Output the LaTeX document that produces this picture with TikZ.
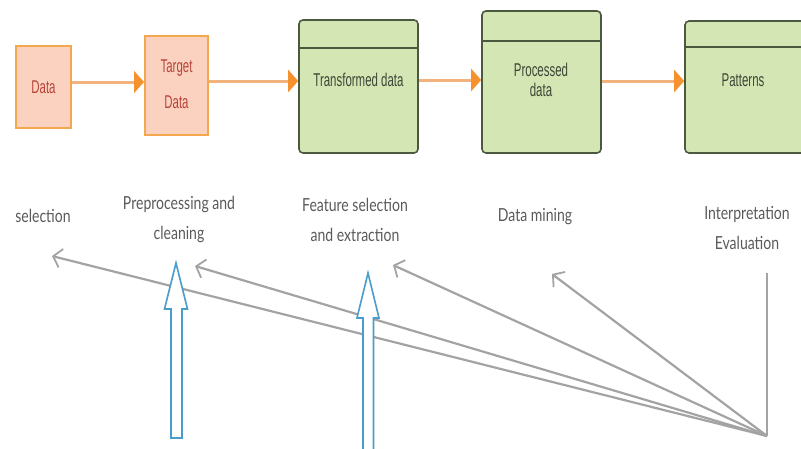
\documentclass[tikz,border=0pt]{standalone}
\usepackage{fontspec}
\setmainfont{Lato}
\newfontfamily\stepfont[FakeStretch=0.78]{Lato}
\newfontfamily\boxfont[FakeStretch=0.62]{Liberation Sans}
\usetikzlibrary{arrows.meta,calc}

\definecolor{pinkfill}{HTML}{FBD2BF}
\definecolor{pinkedge}{HTML}{F3A84E}
\definecolor{pinktext}{HTML}{B8443A}
\definecolor{greenfill}{HTML}{D5E6B5}
\definecolor{greenedge}{HTML}{4B5940}
\definecolor{greentext}{HTML}{3E4636}
\definecolor{flowline}{HTML}{F1B27C}
\definecolor{flowhead}{HTML}{F5922E}
\definecolor{backline}{HTML}{A3A3A3}
\definecolor{labeltext}{HTML}{5A5A5A}
\definecolor{hollowblue}{HTML}{4A9CCB}

\tikzset{
  x=1pt, y=-1pt,
  rawbox/.style={draw=pinkedge, fill=pinkfill, line width=2pt,
    text=pinktext, font=\boxfont\fontsize{18.5}{36}\selectfont,
    align=center, inner sep=0pt},
  stagebox/.style={draw=greenedge, fill=greenfill, line width=1.6pt,
    rounded corners=4pt, inner sep=0pt},
  stagetext/.style={text=greentext, font=\boxfont\fontsize{18.5}{20}\selectfont,
    align=center, inner sep=0pt},
  flow/.style={draw=flowline, line width=3pt,
    -{Triangle[length=10pt,width=22pt,color=flowhead]}},
  stepname/.style={text=labeltext, font=\stepfont\fontsize{18}{30}\selectfont,
    align=center, inner sep=0pt},
  feedback/.style={draw=backline, line width=2.2pt,
    -{Straight Barb[length=8pt,width=19pt,line width=1.8pt]}},
  hollow/.style={draw=hollowblue, fill=white, line width=1.6pt, line join=miter}
}

\begin{document}
\begin{tikzpicture}
\useasboundingbox (0,0) rectangle (801,448);
\clip (0,0) rectangle (801,448);

% data stages
\node[rawbox, minimum width=55pt, minimum height=82pt] (data) at (43.5,87) {Data};
\node[rawbox, minimum width=63pt, minimum height=99pt] (target) at (176.5,85.5) {};
\node[rawbox, draw=none, fill=none] (targettxt) at (176.5,84) {Target\\Data};
\node[stagebox, minimum width=119pt, minimum height=133pt] (trans) at (358.5,86.5) {};
\node[stagebox, minimum width=119pt, minimum height=142pt] (proc) at (541.5,82) {};
\node[stagebox, minimum width=125pt, minimum height=132pt] (patt) at (747.5,87) {};

% header bands of the stage boxes
\draw[greenedge, line width=1.6pt] ($(trans.north west)+(0,29)$) -- ($(trans.north east)+(0,29)$);
\draw[greenedge, line width=1.6pt] ($(proc.north west)+(0,31)$) -- ($(proc.north east)+(0,31)$);
\draw[greenedge, line width=1.6pt] ($(patt.north west)+(0,27)$) -- ($(patt.north east)+(0,27)$);

\node[stagetext] (transtxt) at (358.5,80) {Transformed data};
\node[stagetext] (proctxt) at (541,80) {Processed\\data};
\node[stagetext] (patttxt) at (743,80) {Patterns};

% forward flow
\draw[flow] (data.east |- 0,82) -- (target.west |- 0,82);
\draw[flow] (target.east |- 0,81) -- (trans.west |- 0,81);
\draw[flow] (trans.east |- 0,80) -- (proc.west |- 0,80);
\draw[flow] (proc.east |- 0,81) -- (patt.west |- 0,81);

% step names
\node[stepname] (sel) at (43,216) {selection};
\node[stepname] (pre) at (179,220) {Preprocessing and\\cleaning};
\node[stepname] (feat) at (355,220) {Feature selection\\and extraction};
\node[stepname] (mine) at (535,217) {Data mining};
\node[stepname] (interp) at (747,227.5) {Interpretation\\Evaluation};

% feedback from evaluation
\coordinate (fb) at (767,436);
\coordinate (fbtop) at (767,273);
\coordinate (tosel) at (52,256);
\coordinate (topre) at (195,266);
\coordinate (tofeat) at (393,265);
\coordinate (tomine) at (552,274);
\draw[backline, line width=2pt] (fb) -- (fbtop);
\draw[feedback] (fb) -- (tosel);
\draw[feedback] (fb) -- (topre);
\draw[feedback] (fb) -- (tofeat);
\draw[feedback] (fb) -- (tomine);

% hollow upward arrows
\draw[hollow] (176,263) -- (187.5,309) -- (182,309) -- (182,438) -- (171,438)
  -- (171,309) -- (164.5,309) -- cycle;
\draw[hollow] (368,273) -- (379,318) -- (373.5,318) -- (373.5,452) -- (363,452)
  -- (363,318) -- (357,318) -- cycle;
\end{tikzpicture}
\end{document}
